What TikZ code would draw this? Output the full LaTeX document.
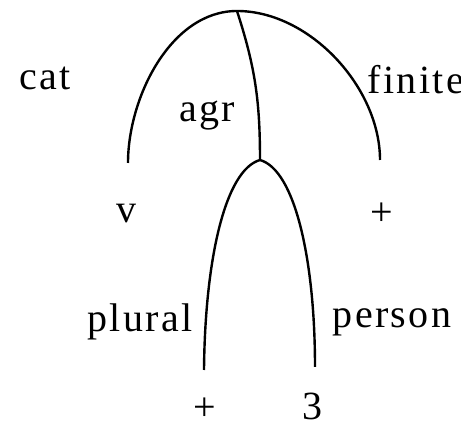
\documentclass[tikz,border=0pt]{standalone}
\usepackage{fontspec}
\setmainfont[LetterSpace=6]{Liberation Serif}
\usepackage{tikz}
\usetikzlibrary{calc,positioning}

\begin{document}
\begin{tikzpicture}[x=0.25pt, y=-0.25pt,
  arc/.style={color=black, line width=0.6pt},
  feat/.style={color=black, inner sep=0pt, font=\fontsize{10}{12}\selectfont}]
\useasboundingbox (0,0) rectangle (461,426);
% Sommets
\coordinate (root) at (237,11);
\coordinate (agr) at (260,160);
\coordinate (catend) at (128,163);
\coordinate (finend) at (380,160);
\coordinate (plend) at (204,370);
\coordinate (persend) at (315,367);
% Arc cat
\draw[arc] (root) to[out=180, in=90, looseness=0.9] (catend);
\node[feat] (cat) at (45,78) {cat};
\node[feat] (v) at (126,214) {v};
% Arc finite
\draw[arc] (root) to[out=0, in=90, looseness=0.9] (finend);
\node[feat] (finite) at (416,80) {finite};
\node[feat] (finval) at (382,214) {+};
% Arc agr
\draw[arc] (root) to[out=-72, in=90] (agr);
\node[feat] (agrlab) at (207,116) {agr};
% Arc plural
\draw[arc] (agr) .. controls (225,170) and (205,260) .. (plend);
\node[feat] (plural) at (140,322) {plural};
\node[feat] (plval) at (205,409) {+};
% Arc person
\draw[arc] (agr) .. controls (295,170) and (315,260) .. (persend);
\node[feat] (person) at (392,322) {person};
\node[feat] (persval) at (312,406) {3};
\end{tikzpicture}
\end{document}
